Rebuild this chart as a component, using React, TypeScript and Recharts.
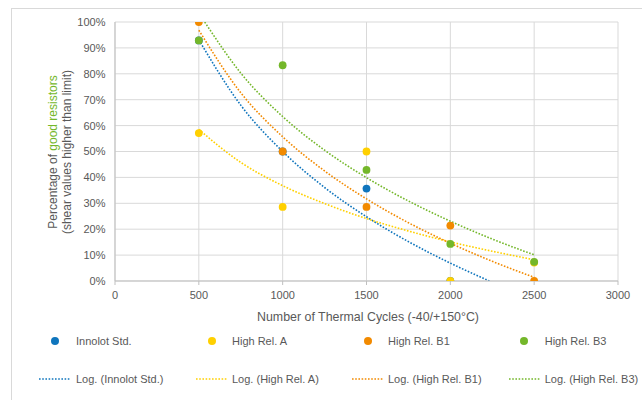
import React from "react";
import { ComposedChart, Line, Scatter, XAxis, YAxis, CartesianGrid } from "recharts";

// ---- Data ----
const cycles = [500, 1000, 1500, 2000, 2500];
const innolotStd = [92.9, 50.0, 35.7, 0.0, null];
const highRelA = [57.1, 28.6, 50.0, 0.0, 7.1];
const highRelB1 = [100.0, 50.0, 28.6, 21.4, 0.0];
const highRelB3 = [92.9, 83.3, 42.9, 14.3, 7.4];

// logarithmic trend lines
const trendX = [500, 750, 1000, 1250, 1500, 1750, 2000, 2250, 2500];
const trendInnolotX = [500, 750, 1000, 1250, 1500, 1750, 2000, 2233];
const trendInnolot = [93.1, 67.9, 50.0, 36.1, 24.8, 15.2, 6.9, 0.0];
const trendA = [58.5, 45.8, 36.8, 29.9, 24.1, 19.3, 15.1, 11.5, 8.2];
const trendB1 = [96.8, 72.7, 55.7, 42.5, 31.7, 22.5, 14.6, 7.6, 1.4];
const trendB3X = [535, 750, 1000, 1250, 1500, 1750, 2000, 2250, 2500];
const trendB3 = [100.0, 80.3, 63.5, 50.5, 39.9, 30.9, 23.1, 16.2, 10.1];

const xTicks = [0, 500, 1000, 1500, 2000, 2500, 3000];
const yTicks = [0, 10, 20, 30, 40, 50, 60, 70, 80, 90, 100];

const seriesNames = ["Innolot Std.", "High Rel. A", "High Rel. B1", "High Rel. B3"];
const colors = ["#0F75BD", "#FFD000", "#F28A00", "#74B72A"];

const toPoints = (xs: number[], ys: (number | null)[]) =>
  xs.map((x, i) => ({ x, y: ys[i] })).filter((p) => p.y !== null);

const scatterData = [innolotStd, highRelA, highRelB1, highRelB3].map((ys) => toPoints(cycles, ys));
const trendData = [
  toPoints(trendInnolotX, trendInnolot),
  toPoints(trendX, trendA),
  toPoints(trendX, trendB1),
  toPoints(trendB3X, trendB3),
];

const FONT = "'Liberation Sans', Arial, sans-serif";
const GRAY = "#595959";

const legendDotX = [47, 203.7, 359.7, 516.3];
const legendTextX = [68, 224, 380, 536.7];
const legendLineX = [31.3, 187.7, 344.3, 501];

export default function App() {
  return (
    <div
      style={{
        position: "fixed",
        left: 8,
        top: 8,
        width: 634,
        height: 392,
        overflow: "hidden",
        fontFamily: FONT,
        background: "#FFFFFF",
      }}
    >
      <div
        style={{
          position: "absolute",
          left: 3,
          top: 0,
          width: 800,
          height: 600,
          borderTop: "1px solid #D9D9D9",
          borderLeft: "1px solid #D9D9D9",
        }}
      />
      <div style={{ position: "absolute", left: 0, top: 0 }}>
        <ComposedChart width={626} height={330} margin={{ top: 14, right: 16, bottom: 0, left: 0 }}>
          <CartesianGrid stroke="#D9D9D9" strokeWidth={1} />
          <XAxis
            type="number"
            dataKey="x"
            domain={[0, 3000]}
            ticks={xTicks}
            allowDataOverflow
            height={57}
            tickSize={4}
            tickMargin={6}
            axisLine={{ stroke: "#BFBFBF" }}
            tickLine={{ stroke: "#BFBFBF" }}
            tick={{ fill: GRAY, fontSize: 11, fontFamily: FONT }}
          />
          <YAxis
            type="number"
            dataKey="y"
            domain={[0, 100]}
            ticks={yTicks}
            allowDataOverflow
            width={107}
            tickSize={6}
            tickMargin={3.5}
            tickLine={false}
            axisLine={{ stroke: "#BFBFBF" }}
            tickFormatter={(v: number) => `${v}%`}
            tick={{ fill: GRAY, fontSize: 11, fontFamily: FONT }}
          />
          {trendData.map((d, i) => (
            <Line
              key={"t" + i}
              data={d}
              dataKey="y"
              type="monotone"
              stroke={colors[i]}
              strokeWidth={1.6}
              strokeDasharray="1.6 1.6"
              dot={false}
              activeDot={false}
              isAnimationActive={false}
            />
          ))}
          {scatterData.map((d, i) => (
            <Scatter
              key={"s" + i}
              data={d}
              dataKey="y"
              fill={colors[i]}
              isAnimationActive={false}
              shape={(p: any) => <circle cx={p.cx} cy={p.cy} r={3.9} fill={colors[i]} />}
            />
          ))}
        </ComposedChart>
      </div>

      {/* Y axis title */}
      <div
        style={{
          position: "absolute",
          left: 52 - 115,
          top: 143.8 - 14,
          width: 230,
          height: 28,
          lineHeight: "14px",
          fontSize: 12,
          color: GRAY,
          textAlign: "center",
          transform: "rotate(-90deg)",
          transformOrigin: "50% 50%",
          whiteSpace: "nowrap",
        }}
      >
        <div>
          Percentage of <span style={{ color: "#74B72A" }}>good resistors</span>
        </div>
        <div>(shear values higher than limit)</div>
      </div>

      {/* X axis title */}
      <div
        style={{
          position: "absolute",
          left: 360 - 160,
          top: 301.7,
          width: 320,
          lineHeight: "14px",
          fontSize: 12.4,
          color: GRAY,
          textAlign: "center",
          whiteSpace: "nowrap",
        }}
      >
        Number of Thermal Cycles (-40/+150°C)
      </div>

      {/* Legend row 1: markers */}
      {seriesNames.map((name, i) => (
        <React.Fragment key={"l1" + i}>
          <div
            style={{
              position: "absolute",
              left: legendDotX[i] - 4,
              top: 333 - 4,
              width: 8,
              height: 8,
              borderRadius: 4,
              background: colors[i],
            }}
          />
          <div
            style={{
              position: "absolute",
              left: legendTextX[i],
              top: 333 - 7,
              lineHeight: "14px",
              fontSize: 11,
              color: GRAY,
              whiteSpace: "nowrap",
            }}
          >
            {name}
          </div>
        </React.Fragment>
      ))}

      {/* Legend row 2: trend lines */}
      {seriesNames.map((name, i) => (
        <React.Fragment key={"l2" + i}>
          <svg
            style={{ position: "absolute", left: legendLineX[i], top: 371 - 2 }}
            width={32}
            height={4}
          >
            <line x1={0} y1={2} x2={31} y2={2} stroke={colors[i]} strokeWidth={1.6} strokeDasharray="1.6 1.6" />
          </svg>
          <div
            style={{
              position: "absolute",
              left: legendTextX[i],
              top: 371 - 7,
              lineHeight: "14px",
              fontSize: 11,
              color: GRAY,
              whiteSpace: "nowrap",
            }}
          >
            {`Log. (${name})`}
          </div>
        </React.Fragment>
      ))}
    </div>
  );
}
